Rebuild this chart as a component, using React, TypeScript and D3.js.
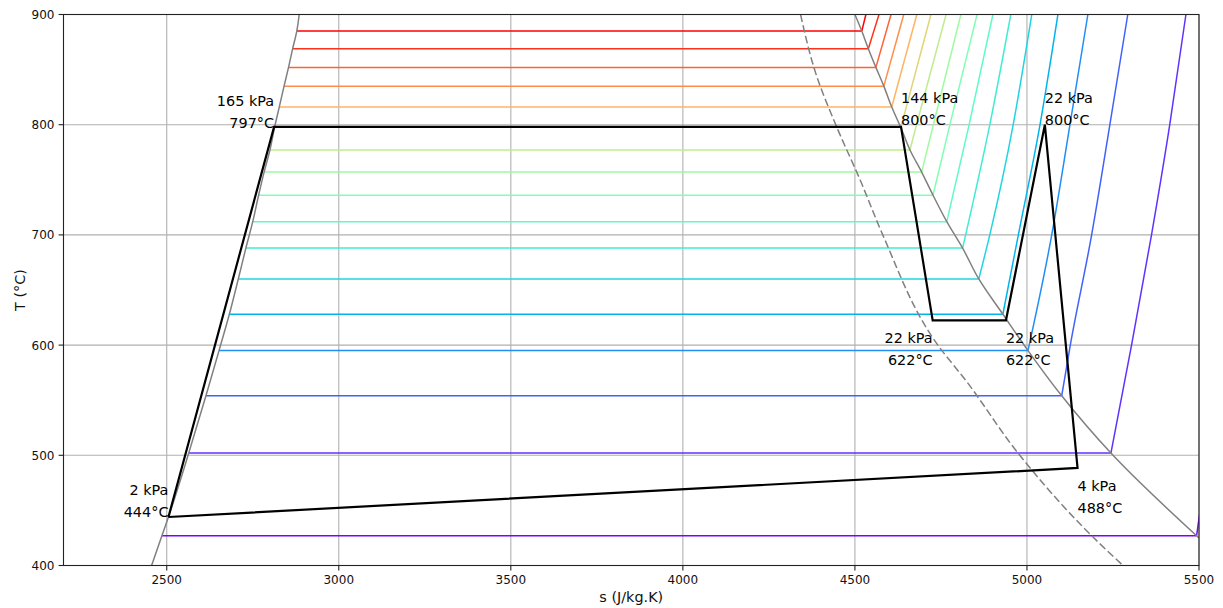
import React, { useEffect } from "react";
import * as d3 from "d3";

const W = 1223;
const H = 608;

const xTicks = [2500, 3000, 3500, 4000, 4500, 5000, 5500];
const yTicks = [400, 500, 600, 700, 800, 900];

// isobars (saturation temperature, sat. liquid entropy, sat. vapour entropy)
const isobarT = [427, 502, 554, 595, 628, 660, 688, 712, 736, 757, 777, 798, 816, 835, 852, 869, 885];
const isobarSL = [2486, 2564, 2614, 2652, 2682, 2708, 2730, 2750, 2767, 2783, 2800, 2813, 2827, 2841, 2854, 2866, 2878];
const isobarSV = [5493, 5244, 5101, 5003, 4930, 4860, 4813, 4767, 4727, 4694, 4660, 4634, 4607, 4584, 4561, 4539, 4520];

// superheated part: entropy at these temperatures (null = below saturation)
const superT = [500, 600, 700, 800, 900];
const superS: (number | null)[][] = [
  [5526, null, null, null, null],
  [null, 5304, 5362, 5415, 5462],
  [null, 5126, 5188, 5241, 5293],
  [null, null, 5072, 5125, 5177],
  [null, null, 4975, 5038, 5090],
  [null, null, 4892, 4960, 5014],
  [null, null, null, 4892, 4953],
  [null, null, null, 4832, 4901],
  [null, null, null, 4776, 4855],
  [null, null, null, 4728, 4808],
  [null, null, null, 4679, 4765],
  [null, null, null, null, 4721],
  [null, null, null, null, 4680],
  [null, null, null, null, 4642],
  [null, null, null, null, 4605],
  [null, null, null, null, 4570],
  [null, null, null, null, 4532],
];

// saturation dome
const liquidS = [2456, 2486, 2505, 2564, 2614, 2652, 2682, 2708, 2730, 2750, 2767, 2783, 2800, 2813, 2827, 2841, 2854, 2866, 2878, 2885];
const liquidT = [400, 427, 444, 502, 554, 595, 628, 660, 688, 712, 736, 757, 777, 797, 816, 835, 852, 869, 885, 900];
const vaporS = [4500, 4520, 4539, 4561, 4584, 4607, 4634, 4660, 4694, 4727, 4767, 4813, 4860, 4930, 5003, 5101, 5244, 5493, 5500];
const vaporT = [900, 885, 869, 852, 835, 816, 797, 777, 757, 736, 712, 688, 660, 628, 595, 554, 502, 427, 425];

// dashed line
const dashS = [4342, 4389, 4447, 4515, 4581, 4741, 4822, 4974, 5188, 5279];
const dashT = [900, 844, 798, 750, 700, 600, 568, 502, 427, 400];

// cycle
const cycleS = [2505, 2812, 4634, 4726, 4939, 5052, 5147, 2505];
const cycleT = [444, 798, 798, 622.5, 622.5, 800, 488.5, 444];

// annotations
const labelS = [2505, 2812, 4634, 4726, 4939, 5052, 5147];
const labelT = [444, 797, 800, 622, 622, 800, 488];
const labelP = ["2 kPa", "165 kPa", "144 kPa", "22 kPa", "22 kPa", "22 kPa", "4 kPa"];
const labelTemp = ["444°C", "797°C", "800°C", "622°C", "622°C", "800°C", "488°C"];

function rainbow(t: number): string {
  const c = (v: number) => Math.round(Math.max(0, Math.min(1, v)) * 255);
  const r = Math.abs(2 * t - 0.5);
  const g = Math.sin(Math.PI * t);
  const b = Math.cos((Math.PI * t) / 2);
  return `rgb(${c(r)},${c(g)},${c(b)})`;
}

export default function App() {
  useEffect(() => {
    document.body.style.margin = "0";
    document.body.style.overflow = "hidden";
  }, []);

  const L = 63.5, R = 1199, T = 14.5, B = 565.5;
  const x = d3.scaleLinear().domain([2200, 5500]).range([L, R]);
  const y = d3.scaleLinear().domain([400, 900]).range([B, T]);

  const line = d3.line<[number, number]>().x((d) => x(d[0])).y((d) => y(d[1]));
  const smooth = d3
    .line<[number, number]>()
    .x((d) => x(d[0]))
    .y((d) => y(d[1]))
    .curve(d3.curveMonotoneX);
  const smoothY = d3
    .line<[number, number]>()
    .x((d) => x(d[0]))
    .y((d) => y(d[1]))
    .curve(d3.curveMonotoneY);

  const n = isobarT.length;
  const font = "DejaVu Sans, sans-serif";

  // label layout: anchor and above/below
  const anchors = ["end", "end", "start", "end", "start", "start", "start"];
  const below = [false, false, false, true, true, false, true];

  return (
    <svg
      width={W}
      height={H}
      style={{ position: "absolute", left: 0, top: 0, background: "#fff" }}
      fontFamily={font}
    >
      <defs>
        <clipPath id="plot">
          <rect x={L} y={T} width={R - L} height={B - T} />
        </clipPath>
      </defs>
      <rect x={0} y={0} width={W} height={H} fill="#fff" />
      {/* grid */}
      <g stroke="#b0b0b0" strokeWidth={1.1}>
        {xTicks.map((t) => (
          <line key={"gx" + t} x1={x(t)} x2={x(t)} y1={T} y2={B} />
        ))}
        {yTicks.map((t) => (
          <line key={"gy" + t} x1={L} x2={R} y1={y(t)} y2={y(t)} />
        ))}
      </g>
      <g clipPath="url(#plot)" fill="none">
        {isobarT.map((tS, i) => {
          const col = rainbow(i / (n - 1));
          const pts: [number, number][] = [[isobarSV[i], tS]];
          superS[i].forEach((s, j) => {
            if (s !== null) pts.push([s, superT[j]]);
          });
          return (
            <g key={"iso" + i} stroke={col} strokeWidth={1.5}>
              <path d={line([[isobarSL[i], tS], [isobarSV[i], tS]]) || ""} />
              <path d={smooth(pts) || ""} />
            </g>
          );
        })}
        <path
          d={smoothY(liquidS.map((s, i) => [s, liquidT[i]] as [number, number])) || ""}
          stroke="#808080"
          strokeWidth={1.5}
        />
        <path
          d={smoothY(vaporS.map((s, i) => [s, vaporT[i]] as [number, number])) || ""}
          stroke="#808080"
          strokeWidth={1.5}
        />
        <path
          d={smoothY(dashS.map((s, i) => [s, dashT[i]] as [number, number])) || ""}
          stroke="#808080"
          strokeWidth={1.5}
          strokeDasharray="7.7,3.3"
        />
        <path
          d={line(cycleS.map((s, i) => [s, cycleT[i]] as [number, number])) || ""}
          stroke="#000"
          strokeWidth={2.2}
          strokeLinejoin="miter"
        />
      </g>
      {/* labels */}
      <g fontSize={14.4} fill="#000">
        {labelS.map((s, i) => {
          const px = x(s);
          const py = y(labelT[i]);
          const b1 = below[i] ? py + 22 : py - 22;
          const b2 = below[i] ? py + 44 : py;
          return (
            <g key={"lab" + i} textAnchor={anchors[i]}>
              <text x={px} y={b1}>{labelP[i]}</text>
              <text x={px} y={b2}>{labelTemp[i]}</text>
            </g>
          );
        })}
      </g>
      {/* frame */}
      <rect x={L} y={T} width={R - L} height={B - T} fill="none" stroke="#222" strokeWidth={1.1} />
      {/* ticks */}
      <g stroke="#222" strokeWidth={1.1}>
        {xTicks.map((t) => (
          <line key={"tx" + t} x1={x(t)} x2={x(t)} y1={B} y2={B + 4.9} />
        ))}
        {yTicks.map((t) => (
          <line key={"ty" + t} x1={L - 4.9} x2={L} y1={y(t)} y2={y(t)} />
        ))}
      </g>
      <g fontSize={12} fill="#111">
        {xTicks.map((t) => (
          <text key={"lx" + t} x={x(t)} y={584} textAnchor="middle">
            {t}
          </text>
        ))}
        {yTicks.map((t) => (
          <text key={"ly" + t} x={54.5} y={y(t) + 4.4} textAnchor="end">
            {t}
          </text>
        ))}
      </g>
      <text x={(L + R) / 2} y={602} fontSize={14.4} textAnchor="middle" fill="#111">
        s (J/kg.K)
      </text>
      <text
        transform={`translate(24.5,${(T + B) / 2}) rotate(-90)`}
        fontSize={14.4}
        textAnchor="middle"
        fill="#111"
      >
        T (°C)
      </text>
    </svg>
  );
}
